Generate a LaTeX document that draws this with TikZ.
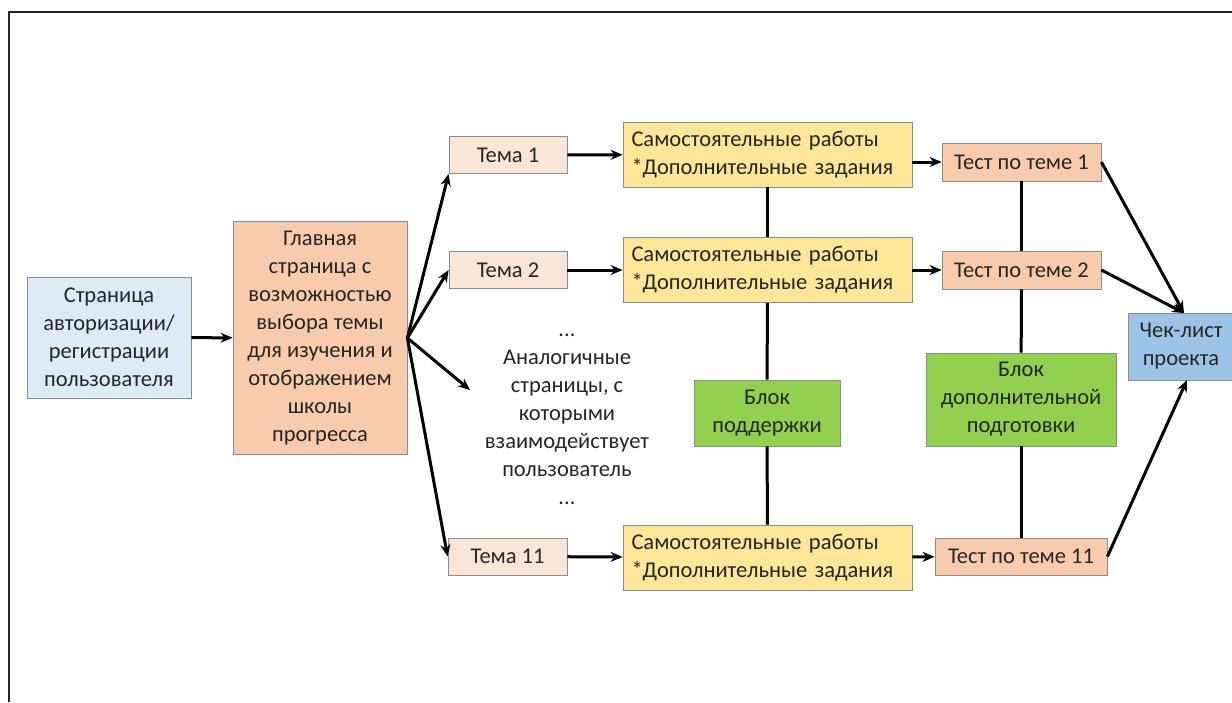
\documentclass[tikz,border=0pt]{standalone}
\usepackage{fontspec}
\setmainfont{Carlito}
\usetikzlibrary{arrows.meta,calc}
\definecolor{authblue}{HTML}{DDEBF7}
\definecolor{mainpeach}{HTML}{F8CBAD}
\definecolor{themepeach}{HTML}{FBE5D6}
\definecolor{workyellow}{HTML}{FFE699}
\definecolor{blockgreen}{HTML}{92D050}
\definecolor{checkblue}{HTML}{9DC3E6}
\tikzset{
  box/.style={draw=black!45, line width=0.8pt, inner sep=2pt, align=center,
    font=\fontsize{22.5}{28}\selectfont, text=black!85},
  themebox/.style={box, fill=themepeach, minimum width=118pt, minimum height=37pt},
  workbox/.style={box, fill=workyellow, minimum width=289pt, minimum height=65pt,
    align=left, text width=272pt},
  testbox/.style={box, fill=mainpeach, minimum height=38pt},
  greenbox/.style={box, fill=blockgreen},
}
\tikzset{
  flow/.style={line width=3pt, -{Stealth[length=12pt,width=10pt]}},
  link/.style={line width=3pt},
}

\begin{document}
\begin{tikzpicture}[x=1pt,y=-1pt]
\useasboundingbox (0,0) rectangle (1232,702);
% frame
\draw[line width=2pt, black!85] (9,702) -- (9,12) -- (1240,12);

% left part
\node[box, fill=authblue, minimum width=164pt, minimum height=121pt] (auth) at (109,337.5)
  {Страница\\авторизации/\\регистрации\\пользователя};
\node[box, fill=mainpeach, minimum width=174pt, minimum height=233pt] (main) at (320,338)
  {Главная\\страница с\\возможностью\\выбора темы\\для изучения и\\отображением\\школы\\прогресса};
\draw[flow] (auth) -- (main);

% themes
\node[themebox] (tema1) at (508,155) {Тема 1};
\node[themebox] (tema2) at (508,270) {Тема 2};
\node[themebox, minimum width=119pt] (tema11) at (507.5,556.5) {Тема 11};
\node[align=center, font=\fontsize{22.5}{28}\selectfont, text=black!85] (other) at (567,419)
  {...\\Аналогичные\\страницы, с\\которыми\\взаимодействует\\пользователь\\...};
\coordinate (otherin) at (470,390);

\draw[flow] (main.east) -- (tema1.south west);
\draw[flow] (main.east) -- (tema2.west);
\draw[flow] (main.east) -- (otherin);
\draw[flow] (main.east) -- (tema11.west);

% independent work
\node[workbox] (sam1) at (767.5,154.5) {Самостоятельные работы\\{*}Дополнительные задания};
\node[workbox] (sam2) at (767.5,270) {Самостоятельные работы\\{*}Дополнительные задания};
\node[workbox] (sam11) at (767.5,557.5) {Самостоятельные работы\\{*}Дополнительные задания};
\node[greenbox, minimum width=146pt, minimum height=66pt] (support) at (767,413)
  {Блок\\поддержки};

\foreach \i in {1,2,11}{
  \draw[flow] (tema\i) -- (sam\i);
}
\draw[link] (sam1) -- (sam2);
\draw[link] (sam2) -- (support);
\draw[link] (support) -- (sam11);

% tests
\node[testbox, minimum width=159pt] (test1) at (1021.5,162) {Тест по теме 1};
\node[testbox, minimum width=159pt] (test2) at (1021.5,270) {Тест по теме 2};
\node[testbox, minimum width=172pt, minimum height=37pt] (test11) at (1021,556.5) {Тест по теме 11};
\node[greenbox, minimum width=190pt, minimum height=93pt] (prep) at (1021,399.5)
  {Блок\\дополнительной\\подготовки};

\draw[flow] (sam1.east |- test1) -- (test1);
\draw[flow] (sam2) -- (test2);
\draw[flow] (sam11) -- (test11);
\draw[link] (test1) -- (test2);
\draw[link] (test2) -- (prep);
\draw[link] (prep) -- (test11);

% check-list
\node[box, fill=checkblue, minimum width=106pt, minimum height=67pt] (check) at (1181,346.5)
  {Чек-лист\\проекта};
\coordinate (checktop) at (1184,313);
\coordinate (checkbot) at (1187,380);
\draw[flow] (test1.east) -- (checktop);
\draw[flow] (test2.east) -- (checktop);
\draw[flow] (test11.east) -- (checkbot);

\end{tikzpicture}
\end{document}
